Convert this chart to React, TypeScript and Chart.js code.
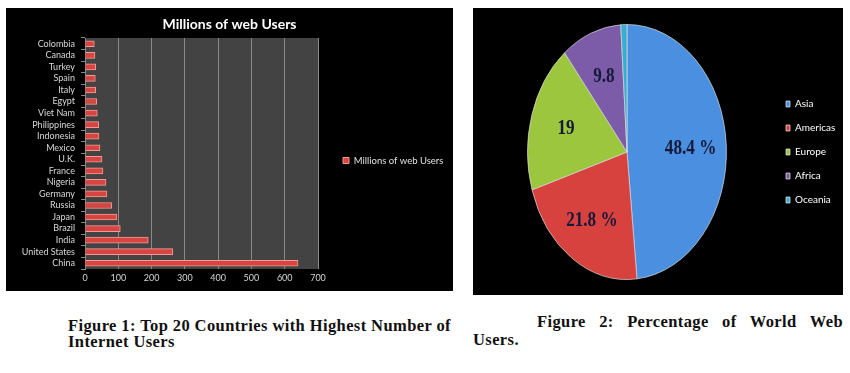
import React, { useEffect, useRef } from 'react';
import { Chart, registerables } from 'chart.js';

Chart.register(...registerables);

// ---------- Figure 1 data ----------
const countries = [
  'Colombia', 'Canada', 'Turkey', 'Spain', 'Italy', 'Egypt', 'Viet Nam', 'Philippines',
  'Indonesia', 'Mexico', 'U.K.', 'France', 'Nigeria', 'Germany', 'Russia', 'Japan',
  'Brazil', 'India', 'United States', 'China',
];
const webUsers = [28, 30, 32, 31, 32, 35, 37, 41, 42, 45, 51, 54, 63, 66, 80, 96, 106, 190, 264, 640];
const barSeriesName = 'Millions of web Users';
const barChartTitle = 'Millions of web Users';
const xAxisMin = 0;
const xAxisMax = 700;
const xAxisStep = 100;

// ---------- Figure 2 data ----------
const regions = ['Asia', 'Americas', 'Europe', 'Africa', 'Oceania'];
const regionShares = [48.4, 21.8, 19, 9.8, 1.0];
const regionLabels = ['48.4 %', '21.8 %', '19', '9.8', ''];
const regionColors = ['#4b8fe0', '#d8423e', '#9cc63e', '#7c5ba8', '#3aaed0'];

// ---------- Captions ----------
const caption1 = ['Figure 1: Top 20 Countries with Highest Number of', 'Internet Users'];
const caption2 = ['Figure 2: Percentage of World Web', 'Users.'];

const plotBackground = {
  id: 'plotBackground',
  beforeDraw(chart: any, _args: any, opts: any) {
    const { ctx, chartArea } = chart;
    if (!chartArea) return;
    ctx.save();
    ctx.fillStyle = opts.color;
    ctx.fillRect(chartArea.left, chartArea.top, chartArea.right - chartArea.left, chartArea.bottom - chartArea.top);
    ctx.restore();
  },
};

const squashPie = {
  id: 'squashPie',
  beforeDatasetsDraw(chart: any, _args: any, opts: any) {
    const meta = chart.getDatasetMeta(0);
    const arc = meta.data[0];
    if (!arc) return;
    const ctx = chart.ctx;
    ctx.save();
    ctx.translate(arc.x, arc.y);
    ctx.scale(opts.scaleX, 1);
    ctx.translate(-arc.x, -arc.y);
  },
  afterDatasetsDraw(chart: any, _args: any, opts: any) {
    const meta = chart.getDatasetMeta(0);
    const ctx = chart.ctx;
    if (!meta.data[0]) return;
    ctx.fillStyle = opts.textColor;
    ctx.font = opts.font;
    ctx.textAlign = 'center';
    ctx.textBaseline = 'middle';
    meta.data.forEach((a: any, i: number) => {
      const text = regionLabels[i];
      if (!text) return;
      const mid = (a.startAngle + a.endAngle) / 2;
      const r = a.outerRadius * opts.labelRadius;
      ctx.fillText(text, a.x + Math.cos(mid) * r, a.y + Math.sin(mid) * r);
    });
    ctx.restore();
  },
};

function BarChart() {
  const ref = useRef<HTMLCanvasElement>(null);
  useEffect(() => {
    if (!ref.current) return;
    const chart = new Chart(ref.current, {
      type: 'bar',
      data: {
        labels: countries,
        datasets: [
          {
            label: barSeriesName,
            data: webUsers,
            backgroundColor: '#d64541',
            borderColor: '#f39a96',
            borderWidth: 1,
            barThickness: 6,
          },
        ],
      },
      options: {
        indexAxis: 'y',
        animation: false,
        responsive: false,
        maintainAspectRatio: false,
        layout: { padding: 0 },
        scales: {
          x: {
            min: xAxisMin,
            max: xAxisMax,
            ticks: { stepSize: xAxisStep, color: '#d4d4d4', font: { family: 'Lato', size: 9 }, padding: 4 },
            grid: { color: '#8a8a8a', drawTicks: false },
            border: { display: false },
            afterFit: (s: any) => { s.height = 22; },
          },
          y: {
            ticks: { color: '#d8d8d8', font: { family: 'Lato', size: 9 }, padding: 6, autoSkip: false },
            grid: { drawOnChartArea: false, color: '#8a8a8a', tickLength: 4 },
            border: { color: '#8a8a8a' },
            afterFit: (s: any) => { s.width = 79; },
          },
        },
        plugins: {
          title: {
            display: true,
            text: barChartTitle,
            color: '#ffffff',
            font: { family: 'Lato', size: 14, weight: 'bold', lineHeight: 1.2 },
            padding: { top: 8, bottom: 5.2 },
          },
          legend: {
            position: 'right',
            maxWidth: 135,
            title: { display: true, text: '', padding: 0, font: { size: 22, lineHeight: 1 } },
            labels: { color: '#e0e0e0', font: { family: 'Lato', size: 9.5 }, boxWidth: 6, boxHeight: 6, padding: 25 },
          },
          tooltip: { enabled: false },
          plotBackground: { color: '#434343' },
        } as any,
      },
      plugins: [plotBackground],
    });
    return () => chart.destroy();
  }, []);
  return <canvas ref={ref} width={447} height={283} style={{ display: 'block' }} />;
}

function PieChart() {
  const ref = useRef<HTMLCanvasElement>(null);
  useEffect(() => {
    if (!ref.current) return;
    const chart = new Chart(ref.current, {
      type: 'pie',
      data: {
        labels: regions,
        datasets: [
          {
            data: regionShares,
            backgroundColor: regionColors,
            borderColor: 'rgba(225,225,225,0.75)',
            borderWidth: 1,
          },
        ],
      },
      options: {
        animation: false,
        responsive: false,
        maintainAspectRatio: false,
        layout: { padding: { top: 16, bottom: 15, left: 9, right: 0 } },
        plugins: {
          legend: {
            position: 'right',
            maxWidth: 71,
            labels: { color: '#ffffff', font: { family: 'Lato', size: 10 }, boxWidth: 4, boxHeight: 6, padding: 14 },
          },
          tooltip: { enabled: false },
          squashPie: {
            scaleX: 0.78,
            labelRadius: 0.64,
            textColor: '#161a3a',
            font: 'bold 22px "Liberation Serif"',
          },
        } as any,
      },
      plugins: [squashPie],
    });
    return () => chart.destroy();
  }, []);
  return <canvas ref={ref} width={370} height={287} style={{ display: 'block' }} />;
}

export default function App() {
  const captionFont = {
    fontFamily: '"Liberation Serif", "Times New Roman", serif',
    fontWeight: 'bold' as const,
    fontSize: 16.5,
    letterSpacing: '0.4px',
    color: '#111',
  };
  return (
    <div style={{ position: 'absolute', left: 0, top: 0, width: 850, height: 373, background: '#fff', overflow: 'hidden' }}>
      <div style={{ position: 'absolute', left: 6, top: 8, width: 447, height: 283, background: '#000' }}>
        <BarChart />
      </div>
      <div style={{ position: 'absolute', left: 473, top: 8, width: 370, height: 287, background: '#000' }}>
        <PieChart />
      </div>
      <div style={{ position: 'absolute', left: 68, top: 318, lineHeight: '16px', whiteSpace: 'nowrap', ...captionFont }}>
        <div>{caption1[0]}</div>
        <div>{caption1[1]}</div>
      </div>
      <div style={{ position: 'absolute', left: 473, top: 313, width: 370, lineHeight: '18px', ...captionFont }}>
        <div style={{ paddingLeft: 64, textAlign: 'justify', textAlignLast: 'justify' as any }}>{caption2[0]}</div>
        <div>{caption2[1]}</div>
      </div>
    </div>
  );
}
